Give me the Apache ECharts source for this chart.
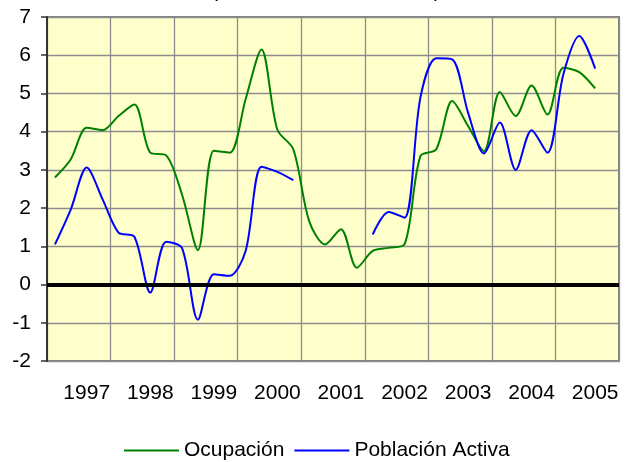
<!DOCTYPE html>
<html>
<head>
<meta charset="utf-8">
<script src="https://cdn.jsdelivr.net/npm/echarts@6/dist/echarts.min.js"></script>
<style>
  html, body { margin: 0; padding: 0; background: #fff; }
  #chart { width: 629px; height: 462px; }
</style>
</head>
<body>
<div id="chart"></div>
<script>
// trimestres 1997-2005
const years = ['1997', '1998', '1999', '2000', '2001', '2002', '2003', '2004', '2005'];
const quarters = ['I', 'II', 'III', 'IV'];
const categories = [];
years.forEach(y => quarters.forEach(q => categories.push(y + '-' + q)));

const ocupacion = [
  2.8, 3.28, 4.1, 4.04, 4.41, 4.71, 3.45, 3.38, 2.35, 0.9, 3.5, 3.45,
  4.85, 6.15, 4.05, 3.54, 1.66, 1.05, 1.45, 0.44, 0.88, 0.96, 1.05, 3.36,
  3.54, 4.8, 4.15, 3.49, 5.04, 4.41, 5.21, 4.45, 5.67, 5.56, 5.13, null
];
const poblacionActiva = [
  1.05, 1.97, 3.06, 2.23, 1.36, 1.25, -0.21, 1.12, 0.95, -0.92, 0.27, 0.23,
  0.88, 3.08, 2.95, 2.73, null, null, null, null, 1.31, 1.9, 1.75, 4.89,
  5.92, 5.89, 4.5, 3.43, 4.24, 3.0, 4.04, 3.45, 5.5, 6.5, 5.65, null
];

const font = "'Liberation Sans', Arial, sans-serif";

var myChart = echarts.init(document.getElementById('chart'));
var option = {
  animation: false,
  textStyle: { fontFamily: font },
  title: {
    text: '(tasa de variación anual)',
    left: 211,
    top: -19,
    padding: 0,
    textStyle: { fontSize: 21, fontWeight: 'normal', color: '#000', fontFamily: font }
  },
  legend: {
    data: ['Ocupación', 'Población Activa'],
    left: 119,
    top: 435,
    icon: 'rect',
    itemWidth: 55,
    itemHeight: 2,
    itemGap: 10,
    textStyle: { fontSize: 21, color: '#000', fontFamily: font }
  },
  grid: {
    left: 47,
    right: 10,
    top: 17,
    bottom: 101,
    show: true,
    backgroundColor: '#FFFFCC',
    borderColor: '#808080',
    borderWidth: 2
  },
  xAxis: {
    type: 'category',
    data: categories,
    boundaryGap: true,
    axisLine: { lineStyle: { color: '#808080', width: 2 } },
    axisTick: { show: false },
    axisLabel: {
      interval: (i) => i % 4 === 2,
      formatter: (v) => v.slice(0, 4),
      margin: 22,
      fontSize: 21,
      color: '#000',
      fontFamily: font
    },
    splitLine: {
      show: true,
      interval: (i) => i % 4 === 0,
      lineStyle: { color: '#8c8c8c', width: 1.3 }
    }
  },
  yAxis: {
    type: 'value',
    min: -2,
    max: 7,
    interval: 1,
    axisLine: { show: true, lineStyle: { color: '#333', width: 2 } },
    axisTick: { show: true, length: 6, lineStyle: { color: '#333', width: 1.5 } },
    axisLabel: { margin: 16, fontSize: 21, color: '#000', fontFamily: font },
    splitLine: { lineStyle: { color: '#8c8c8c', width: 1.3 } }
  },
  series: [
    {
      name: 'Ocupación',
      type: 'line',
      data: ocupacion,
      smooth: 0.3,
      showSymbol: false,
      connectNulls: false,
      lineStyle: { color: '#008000', width: 2 },
      itemStyle: { color: '#008000' },
      markLine: {
        silent: true,
        symbol: 'none',
        label: { show: false },
        lineStyle: { color: '#000', width: 4, type: 'solid' },
        data: [{ yAxis: 0 }]
      }
    },
    {
      name: 'Población Activa',
      type: 'line',
      data: poblacionActiva,
      smooth: 0.3,
      showSymbol: false,
      connectNulls: false,
      lineStyle: { color: '#0000FF', width: 2 },
      itemStyle: { color: '#0000FF' }
    }
  ]
};
option && myChart.setOption(option);
</script>
</body>
</html>
